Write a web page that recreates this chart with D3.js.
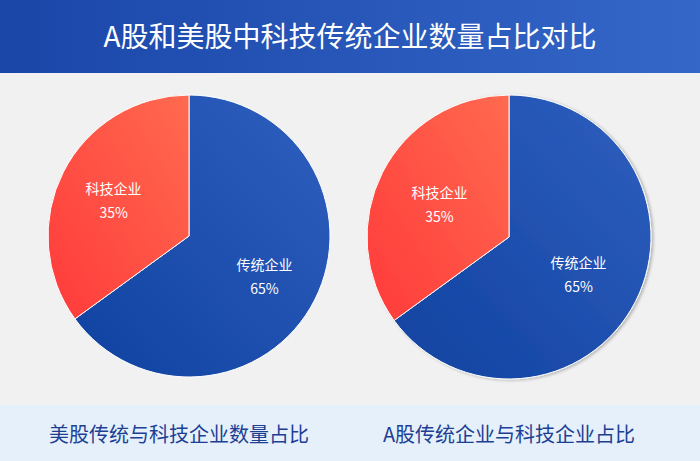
<!DOCTYPE html>
<html><head><meta charset="utf-8">
<script src="https://cdn.jsdelivr.net/npm/d3@7"></script>
<style>body{margin:0;}svg{display:block;font-family:"Noto Sans CJK SC","Noto Sans",sans-serif;}</style>
</head><body><div id="c"></div>
<script>
const title = "A股和美股中科技传统企业数量占比对比";
const categories = ["传统企业", "科技企业"];
const usValues = [65, 35];
const cnValues = [65, 35];
const captions = ["美股传统与科技企业数量占比", "A股传统企业与科技企业占比"];

const W = 700, H = 461;
const svg = d3.select("#c").append("svg").attr("width", W).attr("height", H);
const defs = svg.append("defs");

const tg = defs.append("linearGradient").attr("id", "tg").attr("x1", 0).attr("x2", 1);
tg.append("stop").attr("offset", 0).attr("stop-color", "#1a46a8");
tg.append("stop").attr("offset", 1).attr("stop-color", "#3467c8");
const bg = defs.append("linearGradient").attr("id", "bg").attr("x1", 0).attr("y1", 1).attr("x2", 1).attr("y2", 0);
bg.append("stop").attr("offset", 0).attr("stop-color", "#0f42a0");
bg.append("stop").attr("offset", 1).attr("stop-color", "#2f5fbf");
const rg = defs.append("linearGradient").attr("id", "rg").attr("x1", 0).attr("y1", 1).attr("x2", 1).attr("y2", 0);
rg.append("stop").attr("offset", 0).attr("stop-color", "#ff3a3a");
rg.append("stop").attr("offset", 1).attr("stop-color", "#ff6a50");
const sh = defs.append("filter").attr("id", "sh").attr("x", "-10%").attr("y", "-10%").attr("width", "120%").attr("height", "120%");
sh.append("feDropShadow").attr("dx", 2).attr("dy", 1).attr("stdDeviation", 1.5).attr("flood-color", "#000").attr("flood-opacity", 0.25);

svg.append("rect").attr("width", W).attr("height", H).attr("fill", "#f1f1f1");
svg.append("rect").attr("width", W).attr("height", 73).attr("fill", "url(#tg)");
svg.append("text").attr("x", W / 2).attr("y", 47).attr("text-anchor", "middle")
  .attr("fill", "#fff").attr("font-size", 28).text(title);
svg.append("rect").attr("y", 405).attr("width", W).attr("height", 56).attr("fill", "#e6f0fb");

const pie = d3.pie().sort(null);
const fills = ["url(#bg)", "url(#rg)"];
const pies = [
  { cx: 189, cy: 236, r: 141, vals: usValues, shadow: false, lr: 0.6 },
  { cx: 509, cy: 237, r: 142, vals: cnValues, shadow: true, lr: 0.55 }
];
pies.forEach((p, k) => {
  const g = svg.append("g").attr("transform", `translate(${p.cx},${p.cy})`);
  if (p.shadow) g.attr("filter", "url(#sh)");
  const arc = d3.arc().innerRadius(0).outerRadius(p.r);
  const lab = d3.arc().innerRadius(p.r * p.lr).outerRadius(p.r * p.lr);
  const arcs = pie(p.vals);
  g.selectAll("path").data(arcs).join("path").attr("d", arc)
    .attr("fill", (d, i) => fills[i]).attr("stroke", "#fff").attr("stroke-width", 1);
  const t = svg.append("g").attr("transform", `translate(${p.cx},${p.cy})`)
    .selectAll("text").data(arcs).join("text")
    .attr("transform", d => `translate(${lab.centroid(d)})`)
    .attr("text-anchor", "middle").attr("fill", "#fff").attr("font-size", 14);
  t.append("tspan").attr("x", 0).attr("dy", -4).text((d, i) => categories[i]);
  t.append("tspan").attr("x", 0).attr("dy", 24).text(d => d.data + "%");
  svg.append("text").attr("x", p.cx - 10 + (k ? 10 : 0)).attr("y", 442).attr("text-anchor", "middle")
    .attr("fill", "#1c3f94").attr("font-size", 20).text(captions[k]);
});
</script></body></html>
